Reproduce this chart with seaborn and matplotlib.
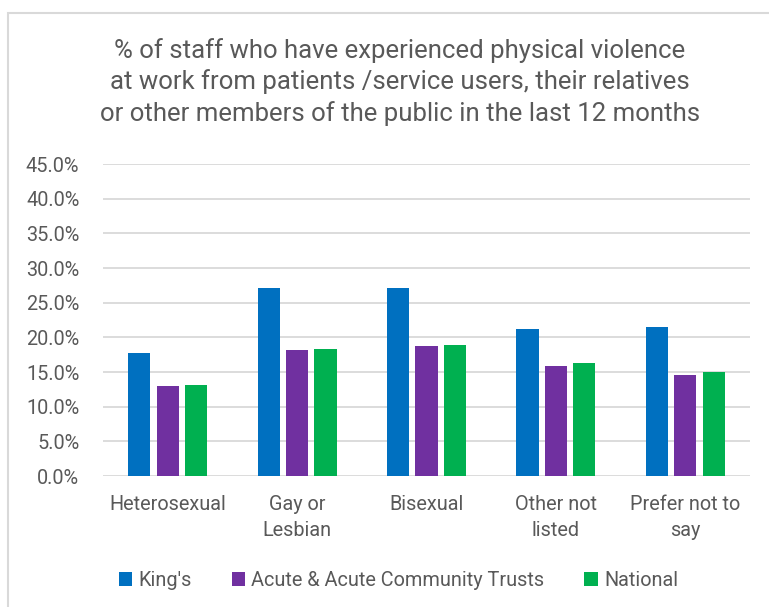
import matplotlib
matplotlib.use("Agg")
import matplotlib.pyplot as plt
from matplotlib.patches import Patch, Rectangle
from matplotlib.ticker import PercentFormatter, MultipleLocator
import seaborn as sns
import pandas as pd

# Survey results (% of staff), by sexual orientation
categories = ["Heterosexual", "Gay or\nLesbian", "Bisexual", "Other not\nlisted", "Prefer not to\nsay"]
series_names = ["King's", "Acute & Acute Community Trusts", "National"]
kings = [17.8, 27.1, 27.1, 21.2, 21.5]
acute = [13.0, 18.2, 18.8, 15.9, 14.6]
national = [13.1, 18.3, 18.9, 16.3, 15.0]
colors = ["#0070C0", "#7030A0", "#00B050"]

title = ("% of staff who have experienced physical violence\n"
         "at work from patients /service users, their relatives\n"
         "or other members of the public in the last 12 months")

df = pd.DataFrame({
    "category": categories * 3,
    "series": [s for s in series_names for _ in categories],
    "value": kings + acute + national,
})

sns.set_theme(style="white")
plt.rcParams["font.family"] = ["Roboto", "DejaVu Sans"]
text_color = "#595959"
grid_color = "#D9D9D9"

fig = plt.figure(figsize=(7.69, 6.07), dpi=100)
ax = fig.add_axes([103 / 769, 1 - 476 / 607, 647 / 769, 312 / 607])

sns.barplot(data=df, x="category", y="value", hue="series", order=categories,
            hue_order=series_names, palette=colors, width=0.66, gap=0.22,
            linewidth=0, saturation=1, ax=ax, legend=False, errorbar=None)

ax.set_ylim(0, 45)
ax.set_xlim(-0.5, len(categories) - 0.5)
ax.yaxis.set_major_locator(MultipleLocator(5))
ax.yaxis.set_major_formatter(PercentFormatter(xmax=100, decimals=1))
ax.grid(axis="y", color=grid_color, linewidth=1.3)
ax.set_axisbelow(True)
for s in ax.spines.values():
    s.set_visible(False)
ax.set_xlabel("")
ax.set_ylabel("")
ax.tick_params(axis="both", length=0, labelsize=14.3, colors=text_color)
ax.tick_params(axis="y", pad=17)
ax.tick_params(axis="x", pad=14)
for lbl in ax.get_xticklabels():
    lbl.set_linespacing(1.45)

fig.text(0.52, 1 - 38 / 607, title, ha="center", va="top", fontsize=18.5,
         color=text_color, linespacing=1.32)

handles = [Patch(facecolor=c, edgecolor="none") for c in colors]
fig.legend(handles, series_names, loc="center", bbox_to_anchor=(0.518, 1 - 580 / 607),
           ncol=3, frameon=False, fontsize=14.3, labelcolor=text_color,
           handlelength=0.7, handleheight=0.7, handletextpad=0.3, columnspacing=2.0)

# Chart frame
fig.patches.append(Rectangle((8 / 769, -0.05), 1.2, 1 - 13 / 607 + 0.05,
                             transform=fig.transFigure, fill=False,
                             edgecolor=grid_color, linewidth=1.5))

fig.savefig("out.png", dpi=100, facecolor="white")
